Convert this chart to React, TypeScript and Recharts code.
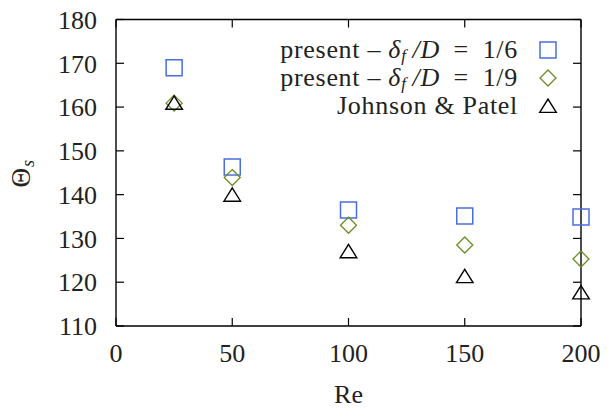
import React from 'react';
import { ScatterChart, Scatter, XAxis, YAxis, Legend } from 'recharts';

// Separation angle Θs against Reynolds number
const reynolds = [25, 50, 100, 150, 200];
const thetaCoarse = [169.0, 146.3, 136.5, 135.1, 134.9]; // present, δf/D = 1/6
const thetaFine = [160.9, 143.9, 133.0, 128.5, 125.3]; // present, δf/D = 1/9
const thetaJohnsonPatel = [160.5, 139.5, 126.6, 120.9, 117.2];

const xTicks = [0, 50, 100, 150, 200];
const yTicks = [110, 120, 130, 140, 150, 160, 170, 180];

const FONT = '"Liberation Serif", "DejaVu Serif", serif';
const TEXT = '#222';
const BLUE = '#4a6ee0';
const OLIVE = '#6b8e23';
const BLACK = '#000';

const toPoints = (values: number[]) => reynolds.map((re, i) => ({ re, theta: values[i] }));
const coarseData = toPoints(thetaCoarse);
const fineData = toPoints(thetaFine);
const jpData = toPoints(thetaJohnsonPatel);

const squarePath = (cx: number, cy: number) =>
  `M${cx - 8},${cy - 8}h16v16h-16Z`;
const diamondPath = (cx: number, cy: number) =>
  `M${cx},${cy - 8}L${cx + 8},${cy}L${cx},${cy + 8}L${cx - 8},${cy}Z`;
const trianglePath = (cx: number, cy: number) =>
  `M${cx},${cy - 8.9}L${cx + 8.3},${cy + 4.4}L${cx - 8.3},${cy + 4.4}Z`;

const SquareMark = (p: any) => (
  <path d={squarePath(p.cx, p.cy)} fill="none" stroke={BLUE} strokeWidth={1.5} />
);
const DiamondMark = (p: any) => (
  <path d={diamondPath(p.cx, p.cy)} fill="none" stroke={OLIVE} strokeWidth={1.3} />
);
const TriangleMark = (p: any) => (
  <path d={trianglePath(p.cx, p.cy)} fill="none" stroke={BLACK} strokeWidth={1.4} />
);

// mirrored frame axes carry tick marks only, no labels
const NoLabel = () => <g />;

const ThetaLabel = (props: any) => {
  const vb = props.viewBox || { x: 0, y: 0, width: 0, height: 0 };
  const x = vb.x + 30;
  const y = vb.y + vb.height / 2 + 1;
  return (
    <text
      x={x}
      y={y}
      transform={`rotate(-90, ${x}, ${y})`}
      textAnchor="middle"
      fontFamily={FONT}
      fontSize={27}
      fill={TEXT}
    >
      Θ
      <tspan fontSize={18} fontStyle="italic" dx={1} dy={4}>s</tspan>
    </text>
  );
};

const legendRows = [
  { frac: '1/6', path: squarePath, color: BLUE, width: 1.5 },
  { frac: '1/9', path: diamondPath, color: OLIVE, width: 1.3 },
  { frac: null, path: trianglePath, color: BLACK, width: 1.4 },
];

const LegendBox = () => (
  <div style={{ position: 'relative', width: 0, height: 0 }}>
    <svg
      width={613}
      height={130}
      style={{ position: 'absolute', left: 0, top: 0, overflow: 'visible' }}
    >
      {legendRows.map((row, i) => {
        const cy = 50 + i * 28;
        return (
          <g key={i}>
            <text
              x={518}
              y={cy + 8}
              textAnchor="end"
              fontFamily={FONT}
              fontSize={26}
              letterSpacing={0.7}
              fill={TEXT}
            >
              {row.frac ? (
                <>
                  {'present – '}
                  <tspan fontStyle="italic">δ</tspan>
                  <tspan fontStyle="italic" fontSize={17} dy={3}>f</tspan>
                  <tspan fontStyle="italic" dy={-3}>{'\u2009/D'}</tspan>
                  {'\u2002=\u2002' + row.frac}
                </>
              ) : (
                'Johnson & Patel'
              )}
            </text>
            <path
              d={row.path(548, i === 2 ? cy + 2 : cy)}
              fill="none"
              stroke={row.color}
              strokeWidth={row.width}
            />
          </g>
        );
      })}
    </svg>
  </div>
);

export default function App() {
  const tickStyle = { fontSize: 26, fill: TEXT, fontFamily: FONT };
  const axisLine = { stroke: BLACK, strokeWidth: 1.4 };
  const tickLine = { stroke: BLACK, strokeWidth: 1.2 };
  return (
    <div style={{ position: 'absolute', left: 0, top: 0, width: 613, height: 417, background: '#fff' }}>
      <ScatterChart
        width={613}
        height={417}
        margin={{ top: 18.5, right: 31, bottom: 0, left: 0 }}
      >
        <XAxis
          xAxisId="bottom"
          type="number"
          dataKey="re"
          domain={[0, 200]}
          ticks={xTicks}
          height={91}
          tickSize={-8}
          tickMargin={25.5}
          tick={tickStyle}
          axisLine={axisLine}
          tickLine={tickLine}
          label={{
            value: 'Re',
            position: 'insideBottom',
            offset: 14,
            style: { fontSize: 26, fill: TEXT, fontFamily: FONT },
          }}
        />
        <XAxis
          xAxisId="top"
          orientation="top"
          type="number"
          dataKey="re"
          domain={[0, 200]}
          ticks={xTicks}
          height={1}
          tickSize={-8}
          tick={NoLabel}
          axisLine={axisLine}
          tickLine={tickLine}
        />
        <YAxis
          yAxisId="left"
          type="number"
          dataKey="theta"
          domain={[110, 180]}
          ticks={yTicks}
          width={116}
          tickSize={-8}
          tickMargin={27}
          tick={tickStyle}
          axisLine={axisLine}
          tickLine={tickLine}
          label={<ThetaLabel />}
        />
        <YAxis
          yAxisId="right"
          orientation="right"
          type="number"
          dataKey="theta"
          domain={[110, 180]}
          ticks={yTicks}
          width={1}
          tickSize={-8}
          tick={NoLabel}
          axisLine={axisLine}
          tickLine={tickLine}
        />
        <Legend
          content={() => <LegendBox />}
          wrapperStyle={{ position: 'absolute', left: 0, top: 0, width: 0, height: 0 }}
        />
        <Scatter
          name="present – δf/D = 1/6"
          data={coarseData}
          xAxisId="bottom"
          yAxisId="left"
          shape={SquareMark}
          isAnimationActive={false}
        />
        <Scatter
          name="present – δf/D = 1/9"
          data={fineData}
          xAxisId="bottom"
          yAxisId="left"
          shape={DiamondMark}
          isAnimationActive={false}
        />
        {/* bound to the mirrored axes (same domains) so the frame's top and right sides render */}
        <Scatter
          name="Johnson & Patel"
          data={jpData}
          xAxisId="top"
          yAxisId="right"
          shape={TriangleMark}
          isAnimationActive={false}
        />
      </ScatterChart>
    </div>
  );
}
